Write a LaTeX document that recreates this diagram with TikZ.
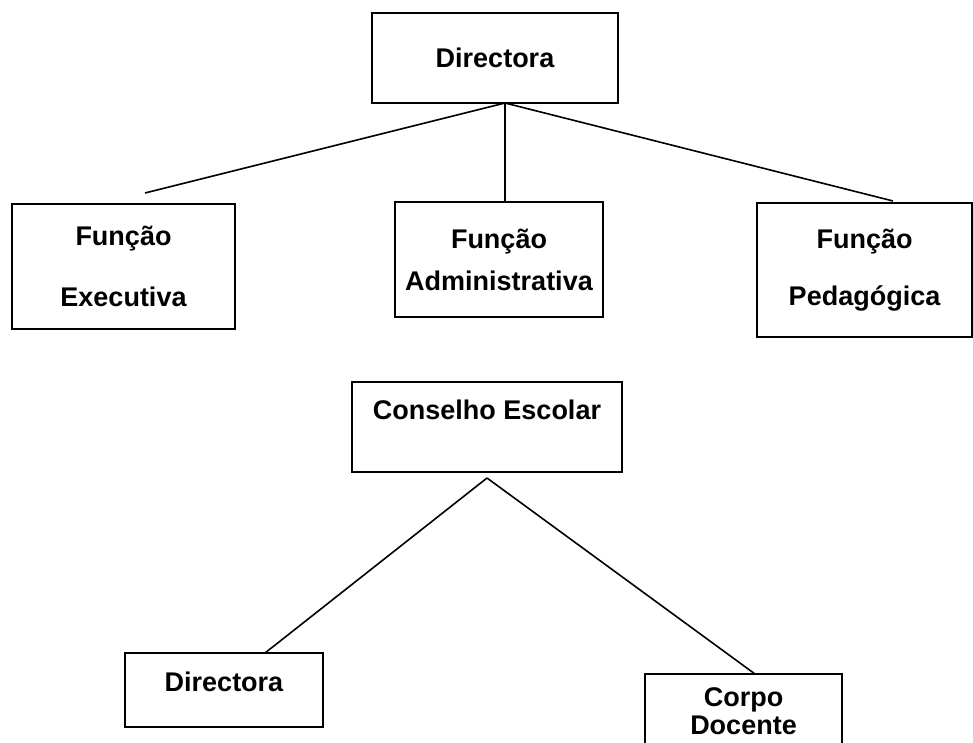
\documentclass[tikz,border=0pt]{standalone}
\usepackage{fontspec}
\setmainfont{Liberation Sans}
\usepackage{tikz}

\begin{document}
\begin{tikzpicture}[x=1pt, y=-1pt,
    orgbox/.style={draw=black, line width=1.7pt, fill=white, inner sep=0pt, align=center,
        font=\fontsize{27}{32}\selectfont\bfseries},
    link/.style={draw=black, line width=1.6pt}]
    \clip (0,0) rectangle (973,743);
    \fill[white] (0,0) rectangle (973,743);

    % upper chart
    \node[orgbox, minimum width=246pt, minimum height=90pt] (dirTop) at (495,58) {Directora};
    \node[orgbox, minimum width=223pt, minimum height=125pt] (exec) at (123.5,266.5) {Função\\[29pt]Executiva};
    \node[orgbox, minimum width=208pt, minimum height=115pt] (admin) at (499,259.5) {Função\\[10pt]Administrativa};
    \node[orgbox, minimum width=215pt, minimum height=134pt] (ped) at (864.5,270) {Função\\[25pt]Pedagógica};

    \coordinate (topJoin) at (505,103);
    \coordinate (execEnd) at (145,193);
    \coordinate (pedEnd) at (893,201);
    \draw[link] (topJoin) -- (execEnd);
    \draw[link] (topJoin) -- (topJoin |- admin.north);
    \draw[link] (topJoin) -- (pedEnd);

    % lower chart
    \node[orgbox, minimum width=270pt, minimum height=90pt, text height=19pt, text depth=33.6pt] (cons) at (487,427) {Conselho Escolar};
    \node[orgbox, minimum width=198pt, minimum height=74pt, text height=19pt, text depth=15.6pt] (dirBot) at (224,690) {Directora};
    \node[orgbox, minimum width=197pt, minimum height=74pt] (corpo) at (743.5,711) {Corpo\\[-4pt]Docente};

    \coordinate (consJoin) at (487,478);
    \coordinate (dirBotEnd) at (265,653);
    \coordinate (corpoEnd) at (755,674);
    \draw[link] (consJoin) -- (dirBotEnd);
    \draw[link] (consJoin) -- (corpoEnd);
\end{tikzpicture}
\end{document}
